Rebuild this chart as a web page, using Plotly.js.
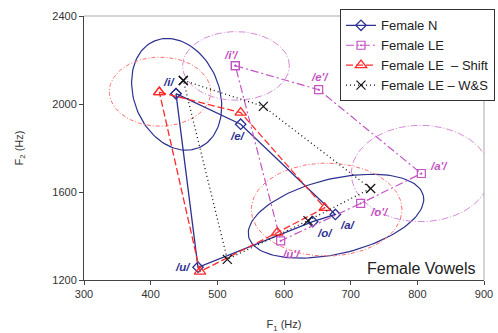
<!DOCTYPE html>
<html>
<head>
<meta charset="utf-8">
<script src="https://cdn.plot.ly/plotly-3.0.1.min.js"></script>
<style>html,body{margin:0;padding:0;background:#fff;}#chart{width:498px;height:333px;}</style>
</head>
<body>
<div id="chart"></div>
<script>
// ---- Data (F1, F2 in Hz) ----
const vowelsN  = ["/i/", "/e/", "/a/", "/o/", "/u/"];
const vowelsLE = ["/i'/", "/e'/", "/a'/", "/o'/", "/u'/"];

const nF1 = [438, 535, 677, 643, 471];
const nF2 = [2047, 1908, 1498, 1465, 1258];

const leF1 = [527, 652, 806, 715, 595];
const leF2 = [2174, 2065, 1684, 1548, 1378];

const shiftF1 = [413, 535, 661, 590, 474];
const shiftF2 = [2054, 1961, 1528, 1416, 1238];

const wsF1 = [449, 569, 730, 636, 515];
const wsF2 = [2107, 1989, 1616, 1470, 1294];

const seriesNames = ["Female N", "Female LE", "Female LE  \u2013 Shift", "Female LE \u2013 W&S"];

// Ellipses: centre (F1, F2) and two semi-axis vectors (Hz)
const ellCenterF1 = [439, 678, 414, 664, 528, 805];
const ellCenterF2 = [2044, 1490, 2056, 1520, 2173, 1684];
const ellAxisU = [[-33, 243], [131, 94], [76, 0], [113, 0], [80, 0], [104, 0]];
const ellAxisV = [[59, 74], [-13, 166], [0, 157], [0, 211], [0, 156], [0, 219]];
const ellGroup = [0, 0, 2, 2, 1, 1]; // series each ellipse belongs to

const xTicks = [300, 400, 500, 600, 700, 800, 900];
const yTicks = [1200, 1600, 2000, 2400];

// ---- Styles ----
const FONT = "Arial, 'Liberation Sans', sans-serif";
const navy = "#2E3190", magenta = "#C353C3", red = "#FF2A2A", black = "#111111";
const ellStyle = [
  {color: navy, width: 1.2, dash: "solid"},
  {color: "#D689D6", width: 1, dash: "7px,2px,1px,2px"},
  {color: "#FF6E6E", width: 1, dash: "4px,2px,1px,2px"}
];

function closed(a) { return a.concat([a[0]]); }

const traces = [];
// ellipses (underneath)
for (let k = 0; k < ellCenterF1.length; k++) {
  const xs = [], ys = [];
  const n = 120;
  for (let j = 0; j <= n; j++) {
    const t = 2 * Math.PI * j / n;
    xs.push(ellCenterF1[k] + ellAxisU[k][0] * Math.cos(t) + ellAxisV[k][0] * Math.sin(t));
    ys.push(ellCenterF2[k] + ellAxisU[k][1] * Math.cos(t) + ellAxisV[k][1] * Math.sin(t));
  }
  traces.push({x: xs, y: ys, mode: "lines", line: ellStyle[ellGroup[k]], showlegend: false, hoverinfo: "skip"});
}

traces.push({
  x: closed(nF1), y: closed(nF2), name: seriesNames[0], mode: "lines+markers",
  line: {color: navy, width: 1.3},
  marker: {symbol: "diamond-open", size: 8, color: navy, line: {width: 1.3}}
});
traces.push({
  x: closed(leF1), y: closed(leF2), name: seriesNames[1], mode: "lines+markers",
  line: {color: magenta, width: 1.2, dash: "8px,3px,2px,3px"},
  marker: {symbol: "square-open-dot", size: 8, color: magenta, line: {width: 1.2}}
});
traces.push({
  x: closed(shiftF1), y: closed(shiftF2), name: seriesNames[2], mode: "lines+markers",
  line: {color: red, width: 1.3, dash: "7px,3px"},
  marker: {symbol: "triangle-up-open", size: 10, color: red, line: {width: 1.3}}
});
traces.push({
  x: closed(wsF1), y: closed(wsF2), name: seriesNames[3], mode: "lines+markers",
  line: {color: black, width: 1.3, dash: "1px,3px"},
  marker: {symbol: "x-thin-open", size: 9, color: black, line: {width: 1.2, color: black}}
});

// vowel labels
const nShift = [[-7, 12], [-3, -12], [13, -11], [12, -11], [-15, 0]];
const leShift = [[-4, 11], [1, 13], [18, 8], [19, -9], [11, -13]];
const annotations = [];
for (let i = 0; i < 5; i++) {
  annotations.push({x: nF1[i], y: nF2[i], xref: "x", yref: "y", text: "<b><i>" + vowelsN[i] + "</i></b>",
    showarrow: false, xshift: nShift[i][0], yshift: nShift[i][1], font: {family: FONT, size: 11.5, color: navy}});
  annotations.push({x: leF1[i], y: leF2[i], xref: "x", yref: "y", text: "<b><i>" + vowelsLE[i] + "</i></b>",
    showarrow: false, xshift: leShift[i][0], yshift: leShift[i][1], font: {family: FONT, size: 11.5, color: magenta}});
}
annotations.push({x: 0.985, y: 0.045, xref: "paper", yref: "paper", xanchor: "right", yanchor: "middle",
  text: "Female Vowels", showarrow: false, font: {family: FONT, size: 16, color: "#222"}});

const layout = {
  width: 498, height: 333,
  margin: {l: 84, r: 14, t: 16, b: 53, autoexpand: false},
  paper_bgcolor: "#fff", plot_bgcolor: "#fff",
  font: {family: FONT, size: 11, color: "#333"},
  xaxis: {
    range: [300, 900], tickvals: xTicks, ticks: "outside", ticklen: 4, tickcolor: "#444",
    showline: true, linecolor: "#444", linewidth: 1, showgrid: false, zeroline: false,
    tickfont: {family: FONT, size: 11, color: "#333"},
    title: {text: "F<sub>1</sub> (Hz)", font: {family: FONT, size: 11, color: "#333"}, standoff: 21}
  },
  yaxis: {
    range: [1200, 2400], tickvals: yTicks, ticks: "outside", ticklen: 4, tickcolor: "#444",
    showline: true, linecolor: "#444", linewidth: 1, showgrid: false, zeroline: false,
    tickfont: {family: FONT, size: 11, color: "#333"},
    title: {text: "F<sub>2</sub> (Hz)", font: {family: FONT, size: 11, color: "#333"}, standoff: 26}
  },
  shapes: [
    {type: "line", xref: "paper", yref: "paper", x0: 0, x1: 1, y0: 1, y1: 1, line: {color: "#aaa", width: 1}},
    {type: "line", xref: "paper", yref: "paper", x0: 1, x1: 1, y0: 0, y1: 1, line: {color: "#aaa", width: 1}}
  ],
  legend: {
    x: 0.64, y: 1.025, xanchor: "left", yanchor: "top",
    bgcolor: "#fff", bordercolor: "#333", borderwidth: 1,
    font: {family: FONT, size: 13, color: "#222"}, tracegroupgap: 0
  },
  annotations: annotations,
  showlegend: true
};

Plotly.newPlot("chart", traces, layout, {staticPlot: true, displayModeBar: false});
</script>
</body>
</html>
